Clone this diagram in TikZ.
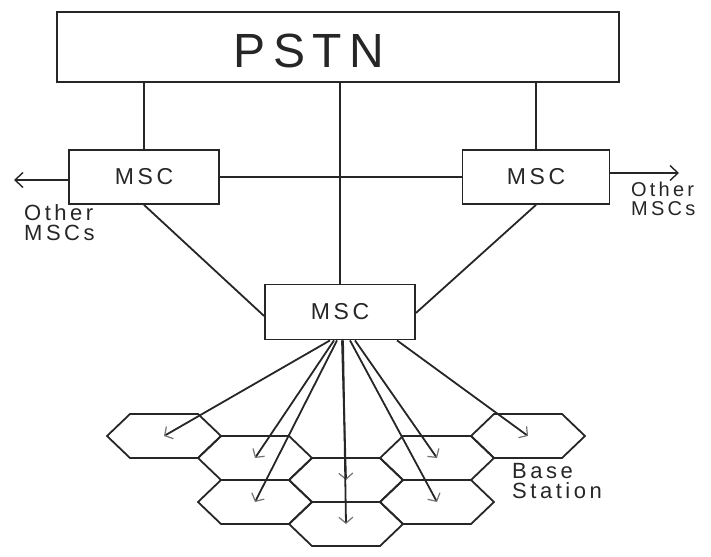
\documentclass[tikz,border=0pt]{standalone}
\usepackage{fontspec}
\setmainfont{Liberation Sans}[LetterSpace=16]
\usetikzlibrary{arrows.meta}

\tikzset{
  wire/.style={line width=1.8pt},
  mscbox/.style={draw, line width=1.8pt, minimum width=150pt, minimum height=54pt,
    inner sep=0pt, font=\fontsize{23}{23}\selectfont},
  outarrow/.style={wire, -{Straight Barb[length=8pt,width=15pt,line width=1.4pt]}},
  fanarrow/.style={wire, -{Straight Barb[length=6pt,width=14pt,line width=1.2pt,color=black!55]}},
  hexcell/.style={line width=1.8pt, line join=round},
  note/.style={align=left, inner sep=0pt, anchor=north west, font=\fontsize{20}{19}\selectfont}
}

\begin{document}
\begin{tikzpicture}[x=1pt, y=-1pt, black!85]
   \useasboundingbox (0,0) rectangle (711,556);

   % core network
   \node(pstn)[draw, line width=1.8pt, minimum width=562pt, minimum height=70pt] at (338,47) {};
   \node(pstnlabel)[font=\fontsize{48}{48}\selectfont] at (309,51) {PSTN};

   \node(lmsc)[mscbox] at (144,177) {MSC};
   \node(rmsc)[mscbox, minimum width=147pt] at (536,177) {MSC};
   \node(bmsc)[mscbox, minimum height=55pt] at (340,312) {MSC};

   \node(lother)[note, font=\fontsize{22}{20}\selectfont] at (24,204) {Other\\MSCs};
   \node(rother)[note] at (631,182) {Other\\MSCs};
   \node(basest)[note, font=\fontsize{22}{20}\selectfont] at (512,463) {Base\\Station};

   \coordinate(lend) at (14,180);
   \coordinate(rend) at (679,173);

   \draw[wire] (lmsc.north) -- (lmsc.north |- pstn.south);
   \draw[wire] (rmsc.north) -- (rmsc.north |- pstn.south);
   \draw[wire] (bmsc.north) -- (bmsc.north |- pstn.south);
   \draw[wire] (lmsc.east) -- (rmsc.west);
   \draw[outarrow] ([yshift=-3pt]lmsc.west) -- (lend);
   \draw[outarrow] ([yshift=4pt]rmsc.east) -- (rend);
   \draw[wire] (lmsc.south) -- ([yshift=-4pt]bmsc.west);
   \draw[wire] (rmsc.south) -- ([yshift=-1pt]bmsc.east);

   % cells
   \foreach \hx/\hy/\hn in {164/436/A, 255/458/B, 255/502/C, 346/480/D,
                            346/524/E, 437/458/F, 437/502/G, 528/436/H}{
     \draw[hexcell] (\hx-57,\hy) -- (\hx-34,\hy-22) -- (\hx+34,\hy-22)
       -- (\hx+57,\hy) -- (\hx+34,\hy+22) -- (\hx-34,\hy+22) -- cycle;
     \coordinate(hex\hn) at (\hx,\hy);
   }

   \foreach \dx/\hn in {-10/A, -6/B, -3/C, 2/D, 3/E, 15/F, 10/G, 57/H}
     \draw[fanarrow] ([xshift=\dx pt]bmsc.south) -- (hex\hn);

\end{tikzpicture}
\end{document}
